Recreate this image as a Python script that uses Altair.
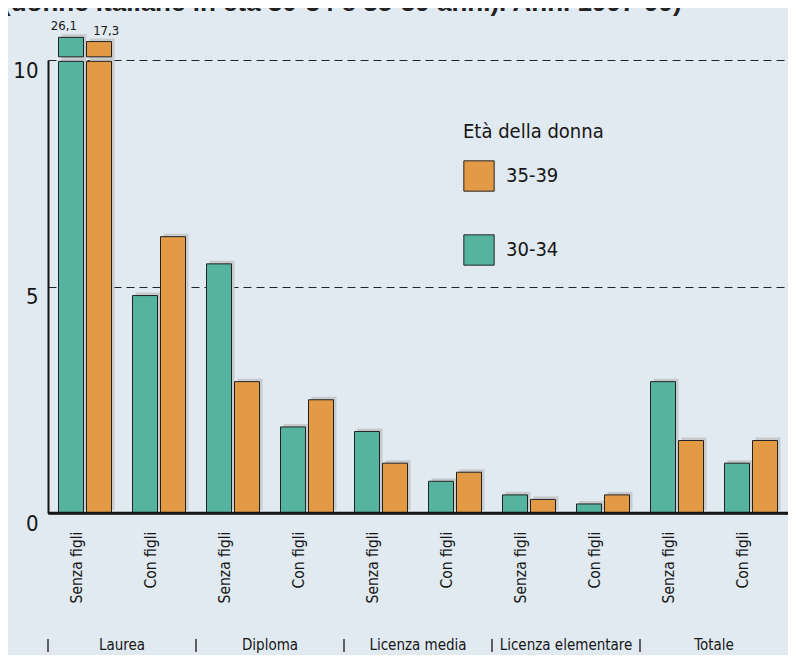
import math
import altair as alt
import pandas as pd

# ---------------- data ----------------
GROUPS = ["Laurea", "Diploma", "Licenza media", "Licenza elementare\ne nessun titolo", "Totale"]
SUBCATS = ["Senza figli", "Con figli"]
AGES = ["30-34", "35-39"]
VALUES_30_34 = [26.1, 4.8, 5.5, 1.9, 1.8, 0.7, 0.4, 0.2, 2.9, 1.1]
VALUES_35_39 = [17.3, 6.1, 2.9, 2.5, 1.1, 0.9, 0.3, 0.4, 1.6, 1.6]
Y_TICKS = [0, 5, 10]
TITLE = "(donne italiane in età 30-34 e 35-39 anni). Anni 1997-99)"
LEGEND_TITLE = "Età della donna"

# ---------------- style ----------------
TEAL = "#55B39F"
ORANGE = "#E39A44"
BG = "#E1E9F1"
SHADOW = "#C8CBCE"
INK = "#161616"
FONT = "DejaVu Sans Condensed, Liberation Sans Narrow, Liberation Sans, sans-serif"
AXIS_MAX = 10
PLOT_W = 740
PLOT_H = 453
SLOT_W = PLOT_W / (len(GROUPS) * len(SUBCATS))
PI = 3 / 28
PO = (SLOT_W / 28 - 2 + PI) / 2

# ---------------- tables ----------------
slot_order = [f"{gi}|{s}" for gi in range(len(GROUPS)) for s in SUBCATS]
series = {"30-34": VALUES_30_34, "35-39": VALUES_35_39}
vmax = max(VALUES_30_34 + VALUES_35_39)

seg_rows, shadow_rows, label_rows = [], [], []
for i, slot in enumerate(slot_order):
    for age in AGES:
        v = series[age][i]
        if v > AXIS_MAX:
            top = AXIS_MAX + 0.5 * math.sqrt(v / vmax)
            seg_rows.append({"slot": slot, "age": age, "y0": 0, "y1": AXIS_MAX - 0.03})
            seg_rows.append({"slot": slot, "age": age, "y0": AXIS_MAX + 0.07, "y1": top})
            label_rows.append({"slot": slot, "age": age, "top": top,
                               "label": f"{v:.1f}".replace(".", ",")})
        else:
            top = v
            seg_rows.append({"slot": slot, "age": age, "y0": 0, "y1": v})
        shadow_rows.append({"slot": slot, "age": age, "top": top})

segs = pd.DataFrame(seg_rows)
shadows = pd.DataFrame(shadow_rows)
labels = pd.DataFrame(label_rows)
groups = pd.DataFrame({"slot": [f"{gi}|{SUBCATS[0]}" for gi in range(len(GROUPS))],
                       "name": GROUPS})
title_df = pd.DataFrame({"t": [TITLE]})

# ---------------- encodings ----------------
x_enc = alt.X(
    "slot:N", sort=slot_order,
    scale=alt.Scale(paddingInner=0, paddingOuter=0),
    axis=alt.Axis(title=None, labelExpr="split(datum.label, '|')[1]", labelAngle=-90,
                  labelFontSize=15.5, labelFont=FONT, labelColor=INK, labelPadding=18,
                  labelOffset=-8, ticks=False, grid=False, domainWidth=2.5, domainColor=INK),
)
y_scale = alt.Scale(domain=[0, AXIS_MAX], nice=False, zero=True)
y_axis = alt.Axis(values=Y_TICKS, title=None, ticks=False, labelFontSize=22, labelFont=FONT,
                  labelColor=INK, labelBaseline="top", labelPadding=10, domainWidth=2,
                  domainColor=INK, grid=True, gridDash=[8, 5], gridColor="#222222", gridWidth=1)
xoff_main = alt.XOffset("age:N", sort=AGES, scale=alt.Scale(paddingInner=PI, paddingOuter=PO))
xoff_shadow = alt.XOffset("age:N", sort=AGES,
                          scale=alt.Scale(range=[3, SLOT_W + 3], paddingInner=PI, paddingOuter=PO))

shadow = alt.Chart(shadows).mark_bar(color=SHADOW, yOffset=-3, y2Offset=-3).encode(
    x=x_enc, xOffset=xoff_shadow,
    y=alt.Y("top:Q", scale=y_scale, axis=y_axis), y2=alt.datum(0),
)

bars = alt.Chart(segs).mark_bar(stroke="#222222", strokeWidth=1).encode(
    x=x_enc, xOffset=xoff_main,
    y=alt.Y("y0:Q", scale=y_scale, axis=y_axis), y2="y1:Q",
    fill=alt.Fill("age:N", scale=alt.Scale(domain=["35-39", "30-34"], range=[ORANGE, TEAL]),
                  legend=alt.Legend(orient="none", legendX=415, legendY=62, title=LEGEND_TITLE,
                                    titleFont=FONT, titleFontSize=20, titleFontWeight="normal",
                                    titleColor=INK, titlePadding=18, labelFont=FONT,
                                    labelFontSize=20, labelColor=INK, labelOffset=11,
                                    symbolType="square", symbolSize=920,
                                    symbolStrokeColor="#222222", symbolStrokeWidth=1,
                                    rowPadding=38)),
)

value_labels = alt.Chart(labels).mark_text(baseline="bottom", dy=-4, fontSize=13, font=FONT,
                                           color=INK).encode(
    x=x_enc, xOffset=xoff_main, y=alt.Y("top:Q", scale=y_scale), text="label:N",
)

baseline = alt.Chart(title_df).mark_rule(color=INK, strokeWidth=2.5).encode(y=alt.datum(0))

group_labels = alt.Chart(groups).mark_text(baseline="top", align="center", fontSize=15,
                                           font=FONT, color=INK, lineBreak="\n").encode(
    x=alt.X("slot:N", sort=slot_order, bandPosition=1), y=alt.value(578), text="name:N",
)

separators = alt.Chart(groups).mark_rule(color=INK, strokeWidth=1.3).encode(
    x=alt.X("slot:N", sort=slot_order, bandPosition=0), y=alt.value(579), y2=alt.value(592),
)

title = alt.Chart(title_df).mark_text(align="left", baseline="alphabetic", fontSize=26,
                                      fontWeight="bold", font="Liberation Sans",
                                      color="#222222").encode(
    x=alt.value(-46), y=alt.value(-49), text="t:N",
)

chart = alt.layer(
    shadow, bars, value_labels, baseline, group_labels, separators, title
).resolve_scale(xOffset="independent").properties(
    width=PLOT_W, height=PLOT_H,
    autosize=alt.AutoSizeParams(type="none"),
    padding={"left": 40, "top": 52, "right": 0, "bottom": 142},
).configure(background=BG).configure_view(stroke=None)

chart.save("out.html", embed_options={"renderer": "svg", "actions": False})
